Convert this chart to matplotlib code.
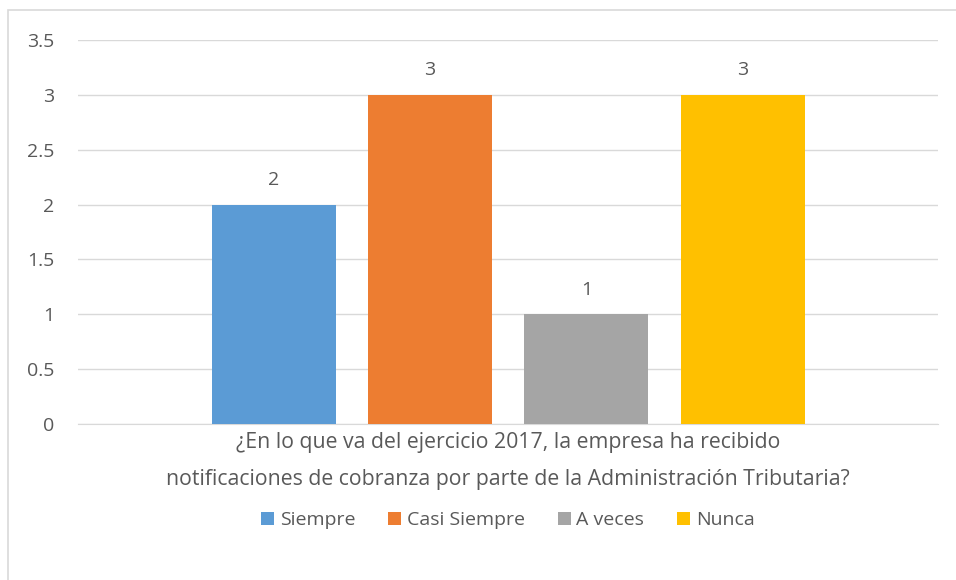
from matplotlib import pyplot as plt
from matplotlib.patches import Rectangle

series = ['Siempre', 'Casi Siempre', 'A veces', 'Nunca']
values = [2, 3, 1, 3]
colors = ['#5B9BD5', '#ED7D31', '#A5A5A5', '#FFC000']
question = ('¿En lo que va del ejercicio 2017, la empresa ha recibido\n'
            'notificaciones de cobranza por parte de la Administración Tributaria?')
yticks = [0, 0.5, 1, 1.5, 2, 2.5, 3, 3.5]
ytick_labels = ['0', '0.5', '1', '1.5', '2', '2.5', '3', '3.5']

plt.rcParams['font.family'] = ['Open Sans', 'DejaVu Sans']
txt = '#595959'

fig = plt.figure(figsize=(9.56, 5.8), dpi=100)
# chart border (left/top visible, rest cropped)
fig.patches.append(Rectangle((8 / 956, -0.1), 1.2, 1 - 10 / 580 + 0.1,
                             transform=fig.transFigure, fill=False,
                             edgecolor='#D9D9D9', linewidth=1.2))

ax = fig.add_axes([78 / 956, 1 - 424 / 580, 860 / 956, 384 / 580])

width = 0.144
centers = [0.228, 0.409, 0.591, 0.773]
for c, v, col, name in zip(centers, values, colors, series):
  ax.bar(c, v, width=width, color=col, label=name, zorder=3)
  ax.text(c, v + 0.14, str(v), ha='center', va='bottom', fontsize=14, color=txt)

ax.set_xlim(0, 1)
ax.set_ylim(0, 3.5)
ax.set_yticks(yticks)
ax.set_yticklabels(ytick_labels)
ax.set_xticks([])
ax.tick_params(axis='y', length=0, labelsize=14, labelcolor=txt, pad=17)
ax.grid(axis='y', color='#D9D9D9', linewidth=1, zorder=0)
for s in ['top', 'right', 'left']:
  ax.spines[s].set_visible(False)
ax.spines['bottom'].set_color('#D9D9D9')

ax.set_xlabel(question, fontsize=15.3, color=txt, labelpad=6, linespacing=1.95)

leg = ax.legend(loc='center', bbox_to_anchor=(0.5, (520 - 424) / -384),
                ncol=4, frameon=False, fontsize=14, handlelength=0.65,
                handleheight=0.65, handletextpad=0.3, columnspacing=1.7)
for t in leg.get_texts():
  t.set_color(txt)

plt.savefig('out.png', dpi=100)
